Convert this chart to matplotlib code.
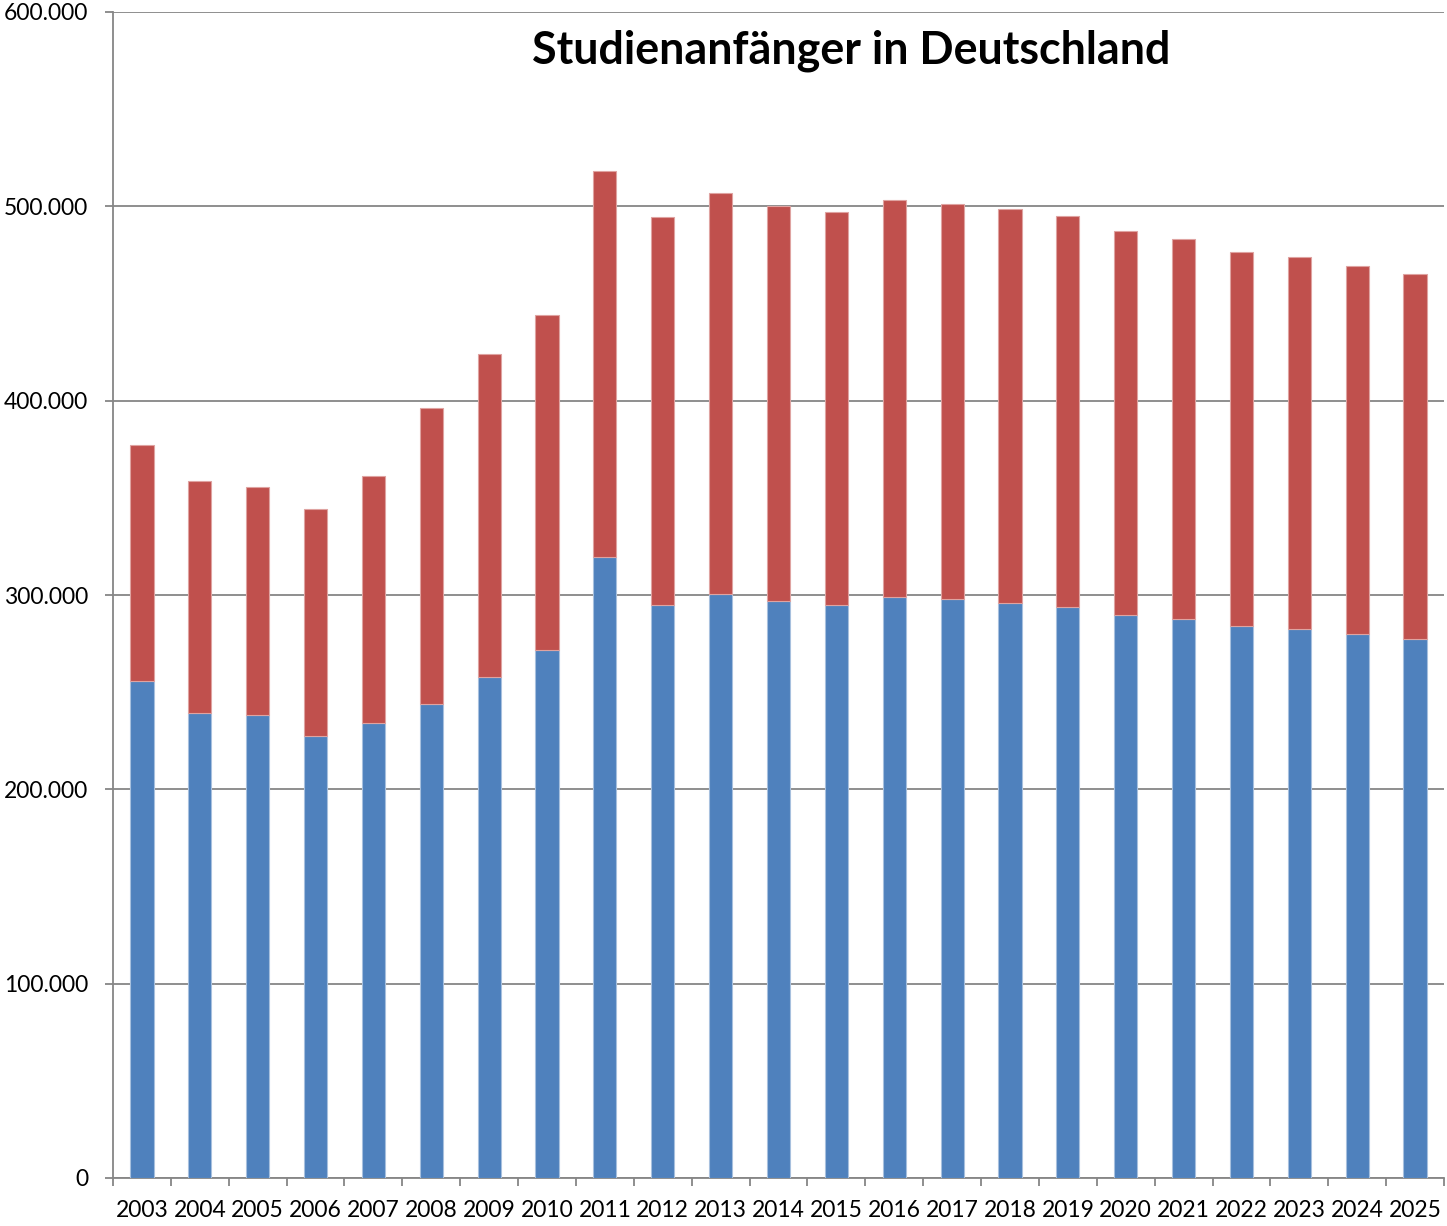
import numpy as np
import matplotlib.pyplot as plt
from matplotlib.ticker import FuncFormatter, FixedLocator

years = [str(y) for y in range(2003, 2026)]
# lower (blue) segment and total height of each stacked bar
blue = [255.7, 239.3, 238.3, 227.4, 234.1, 243.9, 257.8, 271.7, 319.6, 294.9, 300.5, 296.9,
        294.9, 299.0, 297.9, 295.9, 293.8, 289.7, 287.7, 284.1, 282.5, 279.9, 277.4]
total = [377.2, 358.7, 355.6, 344.3, 361.2, 396.2, 424.0, 444.1, 518.2, 494.5, 506.9, 500.2,
         497.1, 503.3, 501.2, 498.6, 495.0, 487.3, 483.2, 476.5, 473.9, 469.3, 465.2]

blue = np.array(blue) * 1000
red = np.array(total) * 1000 - blue

plt.rcParams['font.family'] = ['Lato', 'DejaVu Sans']

fig = plt.figure(figsize=(14.47, 12.26), dpi=100)
ax = fig.add_axes([113 / 1447, 48 / 1226, 1331 / 1447, 1166 / 1226])

x = np.arange(len(years))
ax.bar(x, blue, width=0.4, color='#4F81BD', edgecolor='#A7C0DE', linewidth=0.8, zorder=3)
ax.bar(x, red, bottom=blue, width=0.4, color='#C0504D', edgecolor='#DFA3A1', linewidth=0.8, zorder=3)

ax.set_xlim(-0.5, len(years) - 0.5)
ax.set_ylim(0, 600000)
ax.set_yticks(np.arange(0, 600001, 100000))
ax.yaxis.set_major_formatter(FuncFormatter(lambda v, p: f'{int(v):,}'.replace(',', '.')))
ax.yaxis.grid(True, color='#868686', linewidth=1.3, zorder=0)
ax.set_axisbelow(True)

ax.set_xticks(x)
ax.set_xticklabels(years)
ax.xaxis.set_minor_locator(FixedLocator(np.arange(-0.5, len(years), 1.0)))
ax.tick_params(axis='x', which='major', length=0, pad=16, labelsize=16.5)
ax.tick_params(axis='x', which='minor', length=6, width=1.3, color='#868686', direction='out')
ax.tick_params(axis='y', length=6, width=1.3, color='#868686', direction='out', pad=12, labelsize=16.5)

for s in ['top', 'right']:
    ax.spines[s].set_visible(False)
for s in ['left', 'bottom']:
    ax.spines[s].set_color('#868686')
    ax.spines[s].set_linewidth(1.3)

fig.text(851 / 1447, 1 - 51 / 1226, 'Studienanfänger in Deutschland', ha='center', va='center',
         fontsize=32.3, fontweight='bold')

fig.savefig('out.png', dpi=100)
